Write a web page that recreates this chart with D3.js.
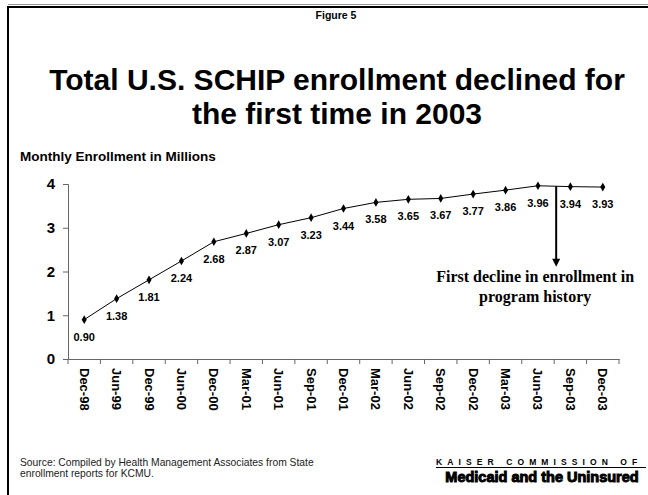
<!DOCTYPE html>
<html><head><meta charset="utf-8">
<script src="https://cdn.jsdelivr.net/npm/d3@7/dist/d3.min.js"></script>
<style>
html,body{margin:0;padding:0;background:#fff;}
svg{display:block;}
</style></head>
<body>
<svg id="c" width="648" height="495" font-family="Liberation Sans, Arial, sans-serif"></svg>
<script>
const categories = ["Dec-98","Jun-99","Dec-99","Jun-00","Dec-00","Mar-01","Jun-01","Sep-01","Dec-01","Mar-02","Jun-02","Sep-02","Dec-02","Mar-03","Jun-03","Sep-03","Dec-03"];
const enrollment = [0.90,1.38,1.81,2.24,2.68,2.87,3.07,3.23,3.44,3.58,3.65,3.67,3.77,3.86,3.96,3.94,3.93];
const yTicks = [0,1,2,3,4];
const titleLines = ["Total U.S. SCHIP enrollment declined for","the first time in 2003"];
const annotationLines = ["First decline in enrollment in","program history"];
const sourceLines = ["Source: Compiled by Health Management Associates from State","enrollment reports for KCMU."];

const SANS = "Liberation Sans, Arial, sans-serif";
const SERIF = "Liberation Serif, Times New Roman, serif";
const svg = d3.select("#c");

// frame
svg.append("line").attr("x1",8).attr("x2",648).attr("y1",4.5).attr("y2",4.5).attr("stroke","#999").attr("stroke-width",1);
svg.append("line").attr("x1",7).attr("x2",648).attr("y1",7).attr("y2",7).attr("stroke","#000").attr("stroke-width",2);
svg.append("line").attr("x1",8).attr("x2",8).attr("y1",6).attr("y2",495).attr("stroke","#000").attr("stroke-width",2);

// headings
svg.append("text").attr("x",336).attr("y",19).attr("text-anchor","middle").style("font-family",SANS)
  .attr("font-size",10.5).attr("font-weight","bold").text("Figure 5");
svg.selectAll("text.title").data(titleLines).enter().append("text").attr("class","title")
  .attr("x",337).attr("y",(d,i)=>90+i*34).attr("text-anchor","middle").style("font-family",SANS)
  .attr("font-size",30).attr("font-weight","bold").text(d=>d);
svg.append("text").attr("x",20).attr("y",161).attr("font-size",13.5).attr("font-weight","bold").style("font-family",SANS)
  .text("Monthly Enrollment in Millions");

// scales
const x = d3.scaleBand().domain(categories).range([68,619]).padding(0);
const y = d3.scaleLinear().domain([0,4]).range([359,184]);
const cx = d => x(d) + x.bandwidth()/2;

// y axis
const gy = svg.append("g").attr("transform","translate(68,0)")
  .call(d3.axisLeft(y).tickValues(yTicks).tickSize(5).tickPadding(8).tickFormat(d3.format("d")));
gy.select(".domain").attr("stroke","#666");
gy.selectAll(".tick line").attr("stroke","#666");
gy.selectAll(".tick text").attr("font-size",15).attr("font-weight","bold").attr("fill","#000")
  .style("font-family",SANS);

// x axis
const gx = svg.append("g").attr("transform","translate(0,359)")
  .call(d3.axisBottom(x).tickSize(0).tickFormat(""));
gx.select(".domain").attr("stroke","#666");
const bounds = categories.map(c=>x(c)).concat([x.range()[1]]);
gx.selectAll("line.bt").data(bounds).enter().append("line").attr("class","bt")
  .attr("x1",d=>d).attr("x2",d=>d).attr("y1",0).attr("y2",5).attr("stroke","#666");
gx.selectAll("text.xl").data(categories).enter().append("text").attr("class","xl")
  .attr("transform",d=>`translate(${cx(d)-4.5},${9}) rotate(90)`)
  .attr("text-anchor","start").style("font-family",SANS)
  .attr("font-size",13).attr("font-weight","bold").attr("fill","#000").text(d=>d);

// line
const pts = categories.map((c,i)=>({c, v:enrollment[i]}));
svg.append("path").datum(pts).attr("fill","none").attr("stroke","#000").attr("stroke-width",1)
  .attr("d", d3.line().x(d=>cx(d.c)).y(d=>y(d.v)));
svg.selectAll("path.mk").data(pts).enter().append("path").attr("class","mk")
  .attr("transform",d=>`translate(${cx(d.c)},${y(d.v)})`)
  .attr("d", d3.symbol().type(d3.symbolDiamond).size(22)).attr("fill","#000");
svg.selectAll("text.dl").data(pts).enter().append("text").attr("class","dl")
  .attr("x",d=>cx(d.c)).attr("y",d=>y(d.v)+21).attr("text-anchor","middle").style("font-family",SANS)
  .attr("font-size",11).attr("font-weight","bold").text(d=>d.v.toFixed(2));

// arrow
const i1 = categories.indexOf("Jun-03"), i2 = categories.indexOf("Sep-03");
const ax = (cx(categories[i1]) + cx(categories[i2]))/2 + 2;
const ay0 = y((enrollment[i1]+enrollment[i2])/2);
const tipY = y(2.11);
svg.append("line").attr("x1",ax).attr("x2",ax).attr("y1",ay0).attr("y2",tipY-7)
  .attr("stroke","#000").attr("stroke-width",2);
svg.append("path").attr("d",`M${ax-4},${tipY-8} L${ax+4},${tipY-8} L${ax},${tipY} Z`).attr("fill","#000");
svg.selectAll("text.an").data(annotationLines).enter().append("text").attr("class","an")
  .attr("x",ax-21).attr("y",(d,i)=>tipY+15+i*20).attr("text-anchor","middle")
  .style("font-family",SERIF)
  .attr("font-size",16).attr("font-weight","bold").text(d=>d);

// source
svg.selectAll("text.src").data(sourceLines).enter().append("text").attr("class","src")
  .attr("x",20).attr("y",(d,i)=>466+i*11).attr("font-size",10.3).attr("fill","#222").style("font-family",SANS).text(d=>d);

// logo
svg.append("text").attr("x",436).attr("y",465).attr("font-size",8.5).attr("font-weight","bold").style("font-family",SANS)
  .attr("letter-spacing","5.1").text("KAISER COMMISSION OF");
svg.append("line").attr("x1",436).attr("x2",646).attr("y1",467.5).attr("y2",467.5).attr("stroke","#000").attr("stroke-width",1);
svg.append("text").attr("x",542).attr("y",481.5).attr("text-anchor","middle").attr("font-size",14.5).style("font-family",SANS)
  .attr("font-weight","bold").attr("stroke","#000").attr("stroke-width",1).text("Medicaid and the Uninsured");
</script>
</body></html>
